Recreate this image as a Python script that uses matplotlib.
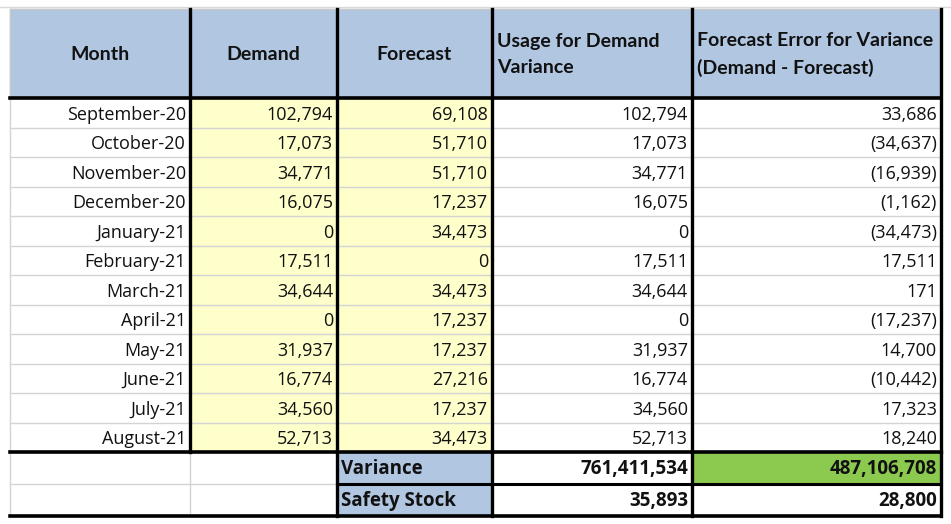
import matplotlib
matplotlib.use("Agg")
import matplotlib.pyplot as plt
from matplotlib.patches import Rectangle
from matplotlib import font_manager

months = ["September-20", "October-20", "November-20", "December-20", "January-21",
          "February-21", "March-21", "April-21", "May-21", "June-21", "July-21", "August-21"]
demand = [102794, 17073, 34771, 16075, 0, 17511, 34644, 0, 31937, 16774, 34560, 52713]
forecast = [69108, 51710, 51710, 17237, 34473, 0, 34473, 17237, 17237, 27216, 17237, 34473]
usage = [102794, 17073, 34771, 16075, 0, 17511, 34644, 0, 31937, 16774, 34560, 52713]
fc_error = [33686, -34637, -16939, -1162, -34473, 17511, 171, -17237, 14700, -10442, 17323, 18240]
headers = ["Month", "Demand", "Forecast", "Usage for Demand\nVariance",
           "Forecast Error for Variance\n(Demand - Forecast)"]
summary_labels = ["Variance", "Safety Stock"]
summary_usage = [761411534, 35893]
summary_error = [487106708, 28800]

names = {f.name for f in font_manager.fontManager.ttflist}
BODY = "Open Sans" if "Open Sans" in names else "DejaVu Sans"
HEAD = "Lato" if "Lato" in names else BODY
NARROW = "Liberation Sans Narrow" if "Liberation Sans Narrow" in names else BODY

W, H = 951, 524
fig = plt.figure(figsize=(W / 100, H / 100), dpi=100)
ax = fig.add_axes([0, 0, 1, 1])
ax.set_xlim(0, W)
ax.set_ylim(H, 0)
ax.axis("off")

xs = [10, 190, 337, 492, 692, 941]
y_top, y_head = 9, 98
row_h = 29.5
y_body_end = y_head + row_h * len(months)
y_sum = [y_body_end, y_body_end + 32, y_body_end + 64]

BLUE = "#b0c6e1"
YELLOW = "#ffffcc"
GREEN = "#8cc94f"
GRID = "#d4d4d4"
TXT = "#111111"


def fmt(v):
    return "({:,})".format(-v) if v < 0 else "{:,}".format(v)


def hline(x0, x1, y, c, lw):
    ax.plot([x0, x1], [y, y], color=c, lw=lw, solid_capstyle="projecting", zorder=3 if c == "black" else 2)


def vline(x, y0, y1, c, lw):
    ax.plot([x, x], [y0, y1], color=c, lw=lw, solid_capstyle="projecting", zorder=3 if c == "black" else 2)


# faint screenshot border
hline(0, W, 7, "#d9d9d9", 1.0)

# header
ax.add_patch(Rectangle((xs[0], y_top), xs[-1] - xs[0], y_head - y_top, color=BLUE, zorder=1))
for i, h in enumerate(headers):
    if i < 3:
        ax.text((xs[i] + xs[i + 1]) / 2, (y_top + y_head) / 2 + 1, h, ha="center", va="center",
                fontsize=14, fontweight="bold", family=HEAD, color=TXT, zorder=4)
    else:
        ax.text(xs[i] + 5, (y_top + y_head) / 2 + 1, h, ha="left", va="center",
                fontsize=14, fontweight="bold", family=HEAD, color=TXT,
                linespacing=1.7, zorder=4)

# yellow columns
ax.add_patch(Rectangle((xs[1], y_head), xs[3] - xs[1], y_body_end - y_head, color=YELLOW, zorder=1))

# body rows
for r in range(len(months)):
    yc = y_head + row_h * (r + 0.5) + 2
    vals = [months[r], fmt(demand[r]), fmt(forecast[r]), fmt(usage[r]), fmt(fc_error[r])]
    for c, v in enumerate(vals):
        ax.text(xs[c + 1] - 4, yc, v, ha="right", va="center", fontsize=13,
                family=BODY, color=TXT, zorder=4)
    if r > 0:
        hline(xs[0], xs[-1], y_head + row_h * r, GRID, 1.0)

# summary rows
ax.add_patch(Rectangle((xs[2], y_sum[0]), xs[3] - xs[2], y_sum[2] - y_sum[0], color=BLUE, zorder=1))
ax.add_patch(Rectangle((xs[4], y_sum[0]), xs[5] - xs[4], y_sum[1] - y_sum[0], color=GREEN, zorder=1))
for k in range(2):
    yc = (y_sum[k] + y_sum[k + 1]) / 2 + 1
    ax.text(xs[2] + 4, yc, summary_labels[k], ha="left", va="center", fontsize=13.5,
            fontweight="bold", family=NARROW, color=TXT, zorder=4)
    ax.text(xs[4] - 4, yc, fmt(summary_usage[k]), ha="right", va="center", fontsize=13.5,
            fontweight="bold", family=NARROW, color=TXT, zorder=4)
    ax.text(xs[5] - 4, yc, fmt(summary_error[k]), ha="right", va="center", fontsize=13.5,
            fontweight="bold", family=NARROW, color=TXT, zorder=4)

# grey lines in summary area
hline(xs[0], xs[2], y_sum[1], GRID, 1.0)
vline(xs[0], y_head, y_sum[2], GRID, 1.0)
vline(xs[1], y_sum[0], y_sum[2], GRID, 1.0)
hline(xs[2], xs[5], y_sum[1], "black", 2.2)

# borders
hline(xs[0], xs[-1], y_top, "#c8c8c8", 1.0)
vline(xs[0], y_top, y_head, "#c8c8c8", 1.0)
hline(xs[0], xs[-1], y_head, "black", 2.6)
for x in xs[1:]:
    vline(x, y_top, y_body_end, "black", 2.4)
for x in xs[2:]:
    vline(x, y_sum[0], y_sum[2], "black", 2.4)
hline(xs[0], xs[-1], y_sum[0], "black", 2.6)
hline(xs[0], xs[-1], y_sum[2], "black", 2.6)

fig.savefig("out.png", dpi=100)
